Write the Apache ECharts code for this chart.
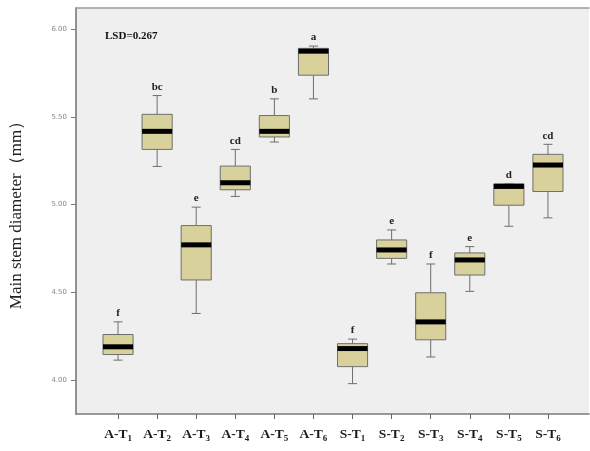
<!DOCTYPE html>
<html>
<head>
<meta charset="utf-8">
<script src="https://cdn.jsdelivr.net/npm/echarts@6/dist/echarts.min.js"></script>
<style>html,body{margin:0;padding:0;background:#fff}#c{width:590px;height:451px}</style>
</head>
<body>
<div id="c"></div>
<script>
const groups = ['A', 'A', 'A', 'A', 'A', 'A', 'S', 'S', 'S', 'S', 'S', 'S'];
const treatments = ['1', '2', '3', '4', '5', '6', '1', '2', '3', '4', '5', '6'];
const categories = ['A-T1', 'A-T2', 'A-T3', 'A-T4', 'A-T5', 'A-T6', 'S-T1', 'S-T2', 'S-T3', 'S-T4', 'S-T5', 'S-T6'];
const mins    = [4.113, 5.217, 4.379, 5.046, 5.356, 5.602, 3.979, 4.661, 4.131, 4.505, 4.876, 4.924];
const q1s     = [4.145, 5.314, 4.570, 5.084, 5.385, 5.737, 4.076, 4.693, 4.229, 4.598, 4.996, 5.074];
const medians = [4.189, 5.417, 4.770, 5.124, 5.417, 5.874, 4.179, 4.741, 4.331, 4.684, 5.103, 5.225];
const q3s     = [4.259, 5.514, 4.880, 5.219, 5.507, 5.890, 4.207, 4.798, 4.497, 4.724, 5.118, 5.286];
const maxs    = [4.331, 5.621, 4.985, 5.314, 5.602, 5.903, 4.233, 4.855, 4.661, 4.760, 5.120, 5.343];
const letters = ['f', 'bc', 'e', 'cd', 'b', 'a', 'f', 'e', 'f', 'e', 'd', 'cd'];
const yTicks = [4.0, 4.5, 5.0, 5.5, 6.0];
const lsdText = 'LSD=0.267';
const yName = 'Main stem diameter（mm）';

const data = categories.map((c, i) => [i, mins[i], q1s[i], medians[i], q3s[i], maxs[i]]);
const Y_MIN = 3.806, Y_MAX = 6.12;
const serif = '"Liberation Serif", "DejaVu Serif", serif';

const chart = echarts.init(document.getElementById('c'));
chart.setOption({
  backgroundColor: '#ffffff',
  animation: false,
  grid: [
    {left: 72, top: 8, right: 1, bottom: 37, show: true, backgroundColor: '#efefef', borderWidth: 0},
    {left: 98.5, top: 8, right: 22.5, bottom: 37}
  ],
  xAxis: [
    {type: 'value', gridIndex: 0, min: 0, max: 1, position: 'bottom',
     axisLine: {show: true, onZero: false, lineStyle: {color: '#7a7a7a', width: 1.5}},
     axisTick: {show: false}, axisLabel: {show: false}, splitLine: {show: false}},
    {type: 'value', gridIndex: 0, min: 0, max: 1, position: 'top',
     axisLine: {show: true, onZero: false, lineStyle: {color: '#9a9a9a', width: 1.5}},
     axisTick: {show: false}, axisLabel: {show: false}, splitLine: {show: false}},
    {type: 'category', gridIndex: 1, data: categories, position: 'bottom',
     axisLine: {show: false},
     axisTick: {show: true, alignWithLabel: true, length: 5, lineStyle: {color: '#666'}},
     axisLabel: {
       margin: 12, interval: 0,
       formatter: (v, i) => '{m|' + groups[i] + '-T}{s|' + treatments[i] + '}',
       rich: {
         m: {fontFamily: serif, fontSize: 13.5, color: '#1a1a1a', fontWeight: 'bold'},
         s: {fontFamily: serif, fontSize: 9, color: '#1a1a1a', fontWeight: 'bold', padding: [8, 0, 0, 0]}
       }
     },
     splitLine: {show: false}}
  ],
  yAxis: [
    {type: 'value', gridIndex: 0, min: Y_MIN, max: Y_MAX,
     name: yName, nameLocation: 'middle', nameGap: 51,
     nameTextStyle: {fontFamily: serif, fontSize: 17, color: '#222'},
     axisLine: {show: true, onZero: false, lineStyle: {color: '#707070', width: 1.5}},
     axisTick: {show: true, length: 5, customValues: yTicks, lineStyle: {color: '#777'}},
     axisLabel: {customValues: yTicks, formatter: v => v.toFixed(2), fontSize: 7,
                 color: '#888', margin: 9, fontFamily: 'DejaVu Sans'},
     splitLine: {show: false}},
    {type: 'value', gridIndex: 1, min: Y_MIN, max: Y_MAX, show: false, splitLine: {show: false}}
  ],
  graphic: [
    {type: 'text', left: 105, top: 31,
     style: {text: lsdText, font: 'bold 11px ' + serif, fill: '#111'}}
  ],
  series: [{
    type: 'custom',
    xAxisIndex: 2, yAxisIndex: 1,
    data: data,
    encode: {x: 0, y: [1, 2, 3, 4, 5]},
    renderItem: function (params, api) {
      const i = api.value(0);
      const pMin = api.coord([i, api.value(1)]);
      const pQ1 = api.coord([i, api.value(2)]);
      const pMed = api.coord([i, api.value(3)]);
      const pQ3 = api.coord([i, api.value(4)]);
      const pMax = api.coord([i, api.value(5)]);
      const band = api.size([1, 0])[0];
      const bw = band * 0.77;
      const cw = 9;
      const x = pMed[0];
      const lineStyle = {stroke: '#6e6e6e', lineWidth: 1};
      return {
        type: 'group',
        children: [
          {type: 'line', shape: {x1: x, y1: pMax[1], x2: x, y2: pQ3[1]}, style: lineStyle},
          {type: 'line', shape: {x1: x, y1: pQ1[1], x2: x, y2: pMin[1]}, style: lineStyle},
          {type: 'line', shape: {x1: x - cw / 2, y1: pMax[1], x2: x + cw / 2, y2: pMax[1]}, style: lineStyle},
          {type: 'line', shape: {x1: x - cw / 2, y1: pMin[1], x2: x + cw / 2, y2: pMin[1]}, style: lineStyle},
          {type: 'rect', shape: {x: x - bw / 2, y: pQ3[1], width: bw, height: pQ1[1] - pQ3[1]},
           style: {fill: '#d9d19c', stroke: '#6e6e6e', lineWidth: 1}},
          {type: 'line', shape: {x1: x - bw / 2, y1: pMed[1], x2: x + bw / 2, y2: pMed[1]},
           style: {stroke: '#000', lineWidth: 5}},
          {type: 'text', style: {text: letters[params.dataIndex], x: x, y: pMax[1] - 3,
            align: 'center', verticalAlign: 'bottom', font: 'bold 11px ' + serif, fill: '#222'}}
        ]
      };
    }
  }]
});
</script>
</body>
</html>
